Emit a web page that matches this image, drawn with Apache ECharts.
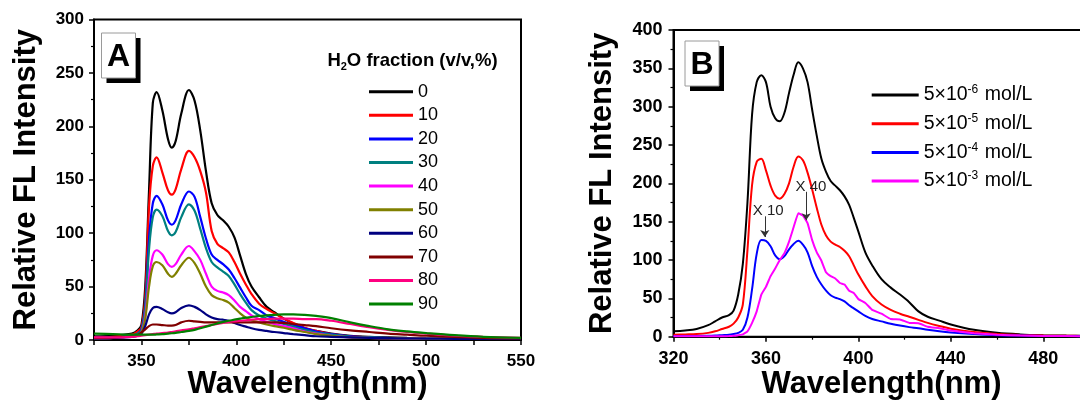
<!DOCTYPE html>
<html>
<head>
<meta charset="utf-8">
<script src="https://cdn.jsdelivr.net/npm/echarts@6/dist/echarts.min.js"></script>
<style>
  html, body { margin: 0; padding: 0; background: #fff; }
  #chart { width: 1080px; height: 403px; }
</style>
</head>
<body>
<div id="chart"></div>
<script>
// ---------- Panel A: emission spectra for increasing water fraction ----------
const wavelengthA = [325, 335, 345, 348, 350, 352, 354, 356, 358, 361, 364, 366, 368, 371, 375, 378, 381, 384, 387, 390,
  393, 396, 399, 402, 405, 408, 412, 416, 420, 425, 430, 436, 442, 450, 460, 470, 480, 490, 500, 515, 530, 550];

const waterFractions = ['0', '10', '20', '30', '40', '50', '60', '70', '80', '90'];

const flW0 = [3.5, 4, 6, 9, 14, 50, 140, 222, 232, 215, 188, 180, 186, 212, 234, 224, 196, 158, 128, 117,
  112, 106, 96, 79, 62, 50, 40, 31, 26, 20, 15.5, 11, 8.5, 6, 4, 3, 2.5, 2, 1.7, 1.4, 1.2, 1];
const flW10 = [2.5, 3, 5, 8, 12, 40, 125, 163, 171, 157, 140, 136, 141, 160, 177, 171, 158, 138, 102, 90,
  86, 82, 73, 62, 52, 43, 34, 29, 25, 20, 16, 11.5, 8.5, 5.5, 3.5, 2.5, 2, 1.8, 1.5, 1.2, 1, 1];
const flW20 = [2, 2.5, 4, 6, 10, 32, 95, 128, 135, 127, 112, 108, 112, 127, 139, 134, 115, 95, 80, 75,
  71, 66, 58, 49, 40, 32, 28, 23, 20.5, 17, 14, 11, 8, 5.5, 3.5, 2.5, 2, 1.7, 1.5, 1.2, 1, 1];
const flW30 = [2, 2.5, 4, 6, 9, 30, 85, 115, 122, 116, 102, 98, 101, 115, 127, 121, 104, 86, 73, 68,
  64, 60, 52, 43, 35, 28, 23, 20, 18, 15, 12.5, 9.5, 7, 5, 3, 2.5, 2, 1.7, 1.5, 1.2, 1, 1];
const flW40 = [1.5, 2, 3.5, 5, 7, 22, 58, 79, 84, 80, 71, 68.5, 71, 80, 88, 83, 75, 62, 50, 46,
  44.5, 42, 37, 31, 27, 23, 19.5, 17, 15, 13, 11, 8, 6, 4, 2.5, 2, 1.7, 1.5, 1.3, 1.1, 1, 1];
const flW50 = [1.5, 2, 3.5, 5, 7, 20, 50, 69, 73, 70, 62, 59, 62, 70, 77, 72, 62, 50, 42, 39,
  37.5, 35, 30, 25, 21, 18.5, 16.5, 14.5, 13, 11.5, 9.5, 7.5, 5.5, 4, 2.5, 2, 1.7, 1.5, 1.3, 1.1, 1, 1];
const flW60 = [1.5, 2, 3, 4, 6, 13, 24, 30, 31, 29, 26, 25, 26, 30, 32.5, 31, 28, 24, 21, 19.5,
  19, 18, 16, 14, 12.5, 11, 9.5, 8.5, 7.5, 6.5, 5.5, 4.5, 3.5, 3, 2.5, 2, 1.7, 1.5, 1.3, 1.1, 1, 1];
const flW70 = [2, 2.5, 3.5, 5, 7, 10, 13, 14.5, 14.5, 14, 13.5, 13.5, 14, 16.5, 18, 17.5, 17, 16.5, 16.5, 16.5,
  16.5, 16.5, 16.5, 16.5, 16.5, 16.5, 16.5, 16.5, 16.5, 16, 15, 14, 13, 11, 9, 7.5, 6, 5, 4, 3, 2, 1.5];
const flW80 = [2.5, 2.5, 3, 3.5, 4, 4.5, 5, 5.5, 6, 6.5, 7, 7.5, 8, 9, 10, 11, 12, 13, 14, 15,
  16, 17, 17.5, 18, 18.5, 19, 19.5, 19.5, 20, 20, 20, 19.5, 19.5, 18, 15, 12, 9.5, 7.5, 6, 4, 3, 2];
const flW90 = [6, 5.5, 5, 5, 5, 5, 5, 5, 5.2, 5.5, 6, 6.3, 6.7, 7.5, 8.5, 9.5, 11, 12.5, 14, 15.5,
  17, 18, 19, 20, 21, 21.5, 22.5, 23, 23.5, 24, 24, 23.5, 22.5, 20.5, 16.5, 13, 10, 8, 6.5, 4.5, 3, 2];

const seriesA = [flW0, flW10, flW20, flW30, flW40, flW50, flW60, flW70, flW80, flW90];
const colorsA = ['#000000', '#ff0000', '#0000ff', '#008080', '#ff00ff', '#808000', '#000080', '#800000', '#ff0080', '#008000'];

// ---------- Panel B: emission spectra at four concentrations ----------
const wavelengthB = [320, 325, 330, 335, 338, 341, 344, 346, 348, 350, 352, 354, 356, 358, 360, 362, 364, 366, 368, 370,
  372, 374, 376, 378, 380, 382, 384, 386, 388, 390, 392, 394, 396, 398, 400, 403, 406, 410, 414, 418,
  422, 426, 430, 435, 440, 450, 460, 470, 480, 490, 500];

const concExponents = ['-6', '-5', '-4', '-3'];

const flC6 = [7, 8, 10, 15, 20, 25, 28, 34, 55, 95, 175, 290, 332, 341, 332, 300, 285, 281, 292, 318,
  342, 358, 350, 332, 296, 262, 232, 215, 203, 197, 191, 183, 172, 155, 137, 110, 93, 75, 64, 55,
  45, 33, 26, 21, 16, 9, 5, 3, 2, 1.5, 1.2];
const flC5 = [2.5, 3, 3.5, 5, 7, 10, 13, 17, 25, 42, 113, 198, 228, 232, 217, 197, 184, 180, 186, 200,
  222, 235, 230, 214, 192, 168, 146, 132, 124, 120, 117, 112, 105, 93, 81, 66, 53, 42, 35, 30,
  26, 22, 18, 14, 10.5, 6, 3.5, 2.3, 1.6, 1.2, 1];
const flC4 = [1, 1, 1, 1.2, 1.5, 2, 2.5, 3.5, 5, 9, 25, 62, 108, 126, 125, 118, 106, 101, 105, 114,
  121, 125, 120, 110, 92, 78, 68, 60, 54, 51, 49, 46, 41, 37, 33, 27, 23, 20, 17, 14.5,
  12.5, 11, 9, 7, 5.5, 3.5, 2, 1.5, 1, 0.8, 0.7];
const flC3 = [0.5, 0.5, 0.5, 0.5, 0.5, 0.6, 0.8, 1.2, 2, 3, 7, 18, 33, 55, 65, 79, 89, 100, 109, 124,
  143, 161, 158, 148, 126, 110, 99, 84, 79, 76, 70, 68, 60, 57, 49, 44, 35, 30, 23, 22.5,
  18, 17.5, 13, 11, 8, 4.5, 2.5, 1.5, 1, 0.8, 0.6];

const seriesB = [flC6, flC5, flC4, flC3];
const colorsB = ['#000000', '#ff0000', '#0000ff', '#ff00ff'];

// scale-factor notes on the two weakest traces: arrow from `from` down to `to` at wavelength x
const scaleNotes = [
  { text: 'X 10', series: 2, x: 359.5, from: 157, to: 130, labelX: 361, labelY: 164 },
  { text: 'X 40', series: 3, x: 377.4, from: 189, to: 152, labelX: 379.5, labelY: 196 }
];

const FONT = '"Liberation Sans", Arial, Helvetica, sans-serif';

function pairs(xs, ys) { return xs.map((x, i) => [x, ys[i]]); }

function valueAxis(extra) {
  return Object.assign({
    type: 'value',
    splitLine: { show: false },
    axisLine: { show: true, onZero: false, lineStyle: { color: '#000', width: 2 } },
    axisTick: { show: true, inside: false, length: 5, lineStyle: { color: '#000', width: 1.5 } },
    minorTick: { show: true, splitNumber: 2, length: 3, lineStyle: { color: '#000', width: 1.2 } },
    axisLabel: { color: '#000', fontFamily: FONT, fontWeight: 'bold', fontSize: 17, margin: 10 },
    nameLocation: 'middle',
    nameMoveOverlap: false,
    nameTextStyle: { color: '#000', fontFamily: FONT, fontWeight: 'bold', fontSize: 31 }
  }, extra);
}

const series = [];
seriesA.forEach((ys, i) => {
  series.push({
    type: 'line', name: waterFractions[i], xAxisIndex: 0, yAxisIndex: 0,
    data: pairs(wavelengthA, ys), showSymbol: false, symbol: 'none', smooth: 0.35,
    lineStyle: { color: colorsA[i], width: 2.2 }, itemStyle: { color: colorsA[i] }
  });
});
seriesB.forEach((ys, i) => {
  const s = {
    type: 'line', name: concExponents[i], xAxisIndex: 1, yAxisIndex: 1,
    data: pairs(wavelengthB, ys), showSymbol: false, symbol: 'none', smooth: i === 3 ? 0.1 : 0.35,
    lineStyle: { color: colorsB[i], width: 2 }, itemStyle: { color: colorsB[i] }
  };
  const notes = scaleNotes.filter(n => n.series === i);
  if (notes.length) {
    s.markLine = {
      silent: true, symbol: ['none', 'arrow'], symbolSize: 7, animation: false,
      lineStyle: { color: '#333', width: 1, type: 'solid' }, label: { show: false },
      data: notes.map(n => [{ coord: [n.x, n.from] }, { coord: [n.x, n.to] }])
    };
    s.markPoint = {
      silent: true, symbol: 'circle', symbolSize: 1, itemStyle: { color: 'rgba(0,0,0,0)' },
      label: { show: true, position: 'inside', color: '#222', fontFamily: FONT, fontSize: 15, formatter: '{b}' },
      data: notes.map(n => ({ name: n.text, coord: [n.labelX, n.labelY] }))
    };
  }
  series.push(s);
});

function labelBox(x, y, letter) {
  return {
    type: 'group', x: x, y: y, z: 100,
    children: [
      { type: 'rect', shape: { x: 5, y: 5, width: 34, height: 45 }, style: { fill: '#000' } },
      { type: 'rect', shape: { x: 0, y: 0, width: 34, height: 45 }, style: { fill: '#fff', stroke: '#9a9a9a', lineWidth: 1 } },
      { type: 'text', style: { x: 17, y: 24, text: letter, align: 'center', verticalAlign: 'middle',
        fontFamily: FONT, fontWeight: 'bold', fontSize: 32, fill: '#000' } }
    ]
  };
}

const option = {
  animation: false,
  backgroundColor: '#fff',
  grid: [
    { left: 94, top: 19.5, width: 427, height: 320.5, show: true, borderColor: '#000', borderWidth: 2,
      backgroundColor: 'rgba(0,0,0,0)', containLabel: false, outerBoundsMode: 'none' },
    { left: 673.5, top: 30, width: 416, height: 306.7, show: true, borderColor: '#000', borderWidth: 2,
      backgroundColor: 'rgba(0,0,0,0)', containLabel: false, outerBoundsMode: 'none' }
  ],
  xAxis: [
    valueAxis({ gridIndex: 0, min: 325, max: 550, interval: 25, minorTick: { show: false },
      axisLabel: { color: '#000', fontFamily: FONT, fontWeight: 'bold', fontSize: 17, margin: 13,
        formatter: v => (v % 50 === 0 ? String(v) : '') },
      name: 'Wavelength(nm)', nameGap: 29 }),
    valueAxis({ gridIndex: 1, min: 320, max: 500, interval: 40,
      axisLabel: { color: '#000', fontFamily: FONT, fontWeight: 'bold', fontSize: 18, margin: 13, showMaxLabel: false },
      name: 'Wavelength(nm)', nameGap: 32 })
  ],
  yAxis: [
    valueAxis({ gridIndex: 0, min: 0, max: 300, interval: 50, name: 'Relative FL Intensity', nameGap: 52 }),
    valueAxis({ gridIndex: 1, min: 0, max: 400, interval: 50, name: 'Relative FL Intensity', nameGap: 56,
      axisLabel: { color: '#000', fontFamily: FONT, fontWeight: 'bold', fontSize: 18, margin: 11 } })
  ],
  legend: [
    {
      data: waterFractions, orient: 'vertical', left: 364, top: 76.7, padding: 5,
      icon: 'rect', itemWidth: 44, itemHeight: 3, itemGap: 3.6, selectedMode: false,
      textStyle: { color: '#000', fontFamily: FONT, fontSize: 18, lineHeight: 20 }
    },
    {
      data: concExponents, orient: 'vertical', left: 866.7, top: 79, padding: 5,
      icon: 'rect', itemWidth: 47, itemHeight: 3, itemGap: 6.7, selectedMode: false,
      formatter: e => '{n|5×10}{sup|' + e + '}{n| mol/L}',
      textStyle: {
        color: '#000', fontFamily: FONT, fontSize: 19.5, lineHeight: 22,
        rich: {
          n: { fontFamily: FONT, fontSize: 19.5, lineHeight: 22, color: '#000' },
          sup: { fontFamily: FONT, fontSize: 12, lineHeight: 22, verticalAlign: 'top', color: '#000', padding: [0, 1, 0, 0] }
        }
      }
    }
  ],
  graphic: [
    labelBox(101.5, 33, 'A'),
    labelBox(685, 41, 'B'),
    {
      type: 'text', z: 100,
      style: {
        x: 412.5, y: 61, align: 'center', verticalAlign: 'middle',
        text: '{b|H}{s|2}{b|O fraction (v/v,%)}',
        rich: {
          b: { fontFamily: FONT, fontWeight: 'bold', fontSize: 18.5, lineHeight: 22, fill: '#000' },
          s: { fontFamily: FONT, fontWeight: 'bold', fontSize: 11, lineHeight: 22, verticalAlign: 'bottom', fill: '#000' }
        }
      }
    }
  ],
  series: series
};

const chart = echarts.init(document.getElementById('chart'), null, { renderer: 'canvas' });
chart.setOption(option);
</script>
</body>
</html>
